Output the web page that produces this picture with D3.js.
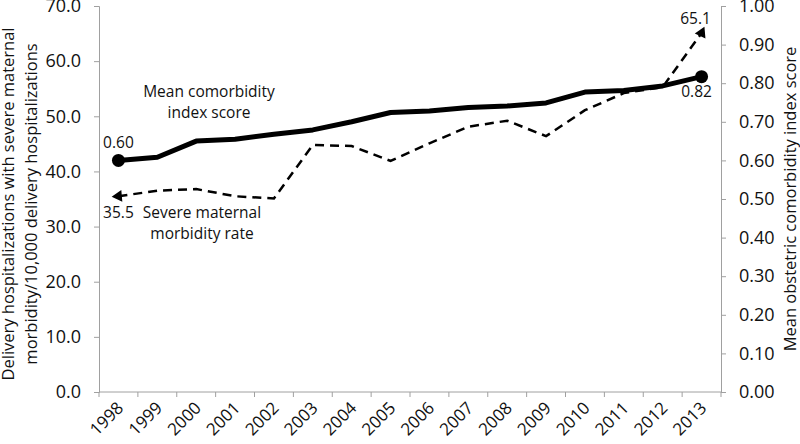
<!DOCTYPE html>
<html>
<head>
<meta charset="utf-8">
<script src="https://cdn.jsdelivr.net/npm/d3@7"></script>
<style>
  body { margin: 0; background: #fff; }
  text { font-family: "Open Sans", sans-serif; fill: #111; }
</style>
</head>
<body>
<script>
var years = ["1998","1999","2000","2001","2002","2003","2004","2005","2006","2007","2008","2009","2010","2011","2012","2013"];
var smmRate = [35.5, 36.5, 36.8, 35.5, 35.1, 44.8, 44.6, 41.9, 45.1, 48.1, 49.2, 46.4, 51.1, 54.2, 55.3, 65.1];
var comorbidity = [0.60, 0.608, 0.650, 0.655, 0.668, 0.679, 0.700, 0.724, 0.728, 0.737, 0.741, 0.749, 0.777, 0.781, 0.793, 0.817];
var leftTicks = [0, 10, 20, 30, 40, 50, 60, 70];
var rightTicks = [0, 0.1, 0.2, 0.3, 0.4, 0.5, 0.6, 0.7, 0.8, 0.9, 1.0];

function main() {
  var svg = d3.select("body").append("svg")
      .attr("width", 800)
      .attr("height", 444);

  var left = 99, right = 721, top = 6, bottom = 392;

  var x = d3.scaleBand().domain(years).range([left, right]);
  var yL = d3.scaleLinear().domain([0, 70]).range([bottom, top]);
  var yR = d3.scaleLinear().domain([0, 1]).range([bottom, top]);
  var cx = function(d, i) { return x(years[i]) + x.bandwidth() / 2; };

  var axisColor = "#a0a0a0";

  // left axis
  var gL = svg.append("g")
      .attr("transform", "translate(" + left + ",0)")
      .call(d3.axisLeft(yL).tickValues(leftTicks).tickFormat(d3.format(".1f")).tickSize(5).tickPadding(13));
  // right axis
  var gR = svg.append("g")
      .attr("transform", "translate(" + right + ",0)")
      .call(d3.axisRight(yR).tickValues(rightTicks).tickFormat(d3.format(".2f")).tickSize(5).tickPadding(13));
  // x axis: ticks at category boundaries
  var gX = svg.append("g")
      .attr("transform", "translate(0," + bottom + ")");
  gX.append("line").attr("x1", left).attr("x2", right).attr("stroke", axisColor);
  gX.selectAll(".tk").data(years.concat(["end"])).enter().append("line")
      .attr("x1", function(d, i) { return left + i * x.bandwidth(); })
      .attr("x2", function(d, i) { return left + i * x.bandwidth(); })
      .attr("y1", 0).attr("y2", 5).attr("stroke", axisColor);
  gX.selectAll(".lb").data(years).enter().append("text")
      .attr("transform", function(d) { return "translate(" + (x(d) + x.bandwidth() / 2 + 6) + ",17) rotate(-45)"; })
      .attr("text-anchor", "end")
      .attr("font-size", "17px")
      .text(function(d) { return d; });

  [gL, gR].forEach(function(g) {
    g.select(".domain").attr("stroke", axisColor);
    g.selectAll(".tick line").attr("stroke", axisColor);
    g.selectAll(".tick text").attr("font-size", "18px").attr("fill", "#111")
      .attr("font-family", "'Open Sans', sans-serif");
  });

  // lines
  var lineR = d3.line().x(cx).y(function(d) { return yR(d); });
  var lineL = d3.line().x(cx).y(function(d) { return yL(d); });

  svg.append("path").datum(comorbidity)
      .attr("d", lineR).attr("fill", "none")
      .attr("stroke", "#000").attr("stroke-width", 5).attr("stroke-linejoin", "round");
  svg.append("path").datum(smmRate)
      .attr("d", lineL).attr("fill", "none")
      .attr("stroke", "#000").attr("stroke-width", 2.5).attr("stroke-dasharray", "9,6");

  // end markers
  var ends = [0, years.length - 1];
  svg.selectAll(".dot").data(ends).enter().append("circle")
      .attr("cx", function(i) { return cx(null, i); })
      .attr("cy", function(i) { return yR(comorbidity[i]); })
      .attr("r", 6.5).attr("fill", "#000");
  svg.selectAll(".tri").data(ends).enter().append("path")
      .attr("d", d3.symbol().type(d3.symbolTriangle).size(60))
      .attr("transform", function(i) { return "translate(" + cx(null, i) + "," + yL(smmRate[i]) + ") rotate(25)"; })
      .attr("fill", "#000");

  // data labels
  var f2 = d3.format(".2f"), f1 = d3.format(".1f");
  svg.append("text").attr("x", cx(null, 0)).attr("y", yR(comorbidity[0]) - 12)
      .attr("text-anchor", "middle").attr("font-size", "15.5px").text(f2(comorbidity[0]));
  svg.append("text").attr("x", cx(null, 15) - 5).attr("y", yR(comorbidity[15]) + 20)
      .attr("text-anchor", "middle").attr("font-size", "15.5px").text(f2(comorbidity[15]));
  svg.append("text").attr("x", cx(null, 0)).attr("y", yL(smmRate[0]) + 22)
      .attr("text-anchor", "middle").attr("font-size", "15.5px").text(f1(smmRate[0]));
  svg.append("text").attr("x", cx(null, 15) - 6).attr("y", yL(smmRate[15]) - 9)
      .attr("text-anchor", "middle").attr("font-size", "15.5px").text(f1(smmRate[15]));

  // series annotations
  var ann = svg.append("g").attr("font-size", "15.5px").attr("text-anchor", "middle");
  ann.append("text").attr("x", 209).attr("y", 97).text("Mean comorbidity");
  ann.append("text").attr("x", 209).attr("y", 118).text("index score");
  ann.append("text").attr("x", 202).attr("y", 218).text("Severe maternal");
  ann.append("text").attr("x", 202).attr("y", 239).text("morbidity rate");

  // axis titles
  var tl = svg.append("text").attr("transform", "translate(14,204) rotate(-90)")
      .attr("text-anchor", "middle").attr("font-size", "16.5px");
  tl.append("tspan").attr("x", 0).attr("dy", 0).text("Delivery hospitalizations with severe maternal");
  tl.append("tspan").attr("x", 0).attr("dy", 22.5).text("morbidity/10,000 delivery hospitalizations");

  svg.append("text").attr("transform", "translate(796,199) rotate(-90)")
      .attr("text-anchor", "middle").attr("font-size", "16.5px")
      .text("Mean obstetric comorbidity index score");
}
main();
</script>
</body>
</html>
